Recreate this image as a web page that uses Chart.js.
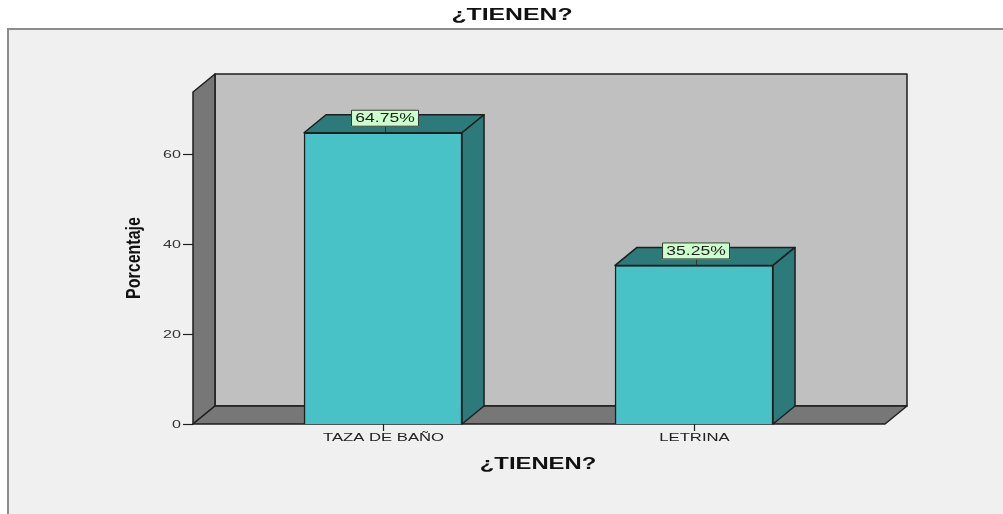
<!DOCTYPE html>
<html>
<head>
<meta charset="utf-8">
<script src="https://cdn.jsdelivr.net/npm/chart.js@4.4.1/dist/chart.umd.min.js"></script>
<style>
  body { margin: 0; background: #ffffff; }
  #chart { display: block; }
</style>
</head>
<body>
<canvas id="chart" width="1003" height="514"></canvas>
<script>
// chart data
var categories = ['TAZA DE BAÑO', 'LETRINA'];
var percentages = [64.75, 35.25];
var yTicks = [0, 20, 40, 60];
var chartTitle = '¿TIENEN?';
var xTitle = '¿TIENEN?';
var yTitle = 'Porcentaje';

// 3D depth offset
var DX = 22, DY = -18;
var FONT = "'Liberation Sans', Arial, sans-serif";

// Draw text stretched horizontally (the original picture is wider than normal)
function stretchText(ctx, text, x, y, font, sx, color, align) {
    ctx.save();
    ctx.font = font;
    ctx.fillStyle = color;
    ctx.textAlign = align || 'center';
    ctx.textBaseline = 'middle';
    ctx.translate(x, y);
    ctx.scale(sx, 1);
    ctx.fillText(text, 0, 0);
    ctx.restore();
}

function poly(ctx, pts, fill) {
    ctx.beginPath();
    ctx.moveTo(pts[0][0], pts[0][1]);
    for (var i = 1; i < pts.length; i++) {
        ctx.lineTo(pts[i][0], pts[i][1]);
    }
    ctx.closePath();
    ctx.fillStyle = fill;
    ctx.fill();
    ctx.stroke();
}

var box3d = {
    id: 'box3d',
    beforeDraw: function(chart) {
        var ctx = chart.ctx;
        ctx.save();
        // outer frame
        ctx.fillStyle = '#f0f0f0';
        ctx.fillRect(8, 29, 1003, 514);
        ctx.strokeStyle = '#8c8c8c';
        ctx.lineWidth = 2;
        ctx.beginPath();
        ctx.moveTo(8, 520);
        ctx.lineTo(8, 29);
        ctx.lineTo(1010, 29);
        ctx.stroke();
        ctx.restore();

        // titles
        stretchText(ctx, chartTitle, 512, 16, 'bold 16px ' + FONT, 1.55, '#111');
        stretchText(ctx, xTitle, 538, 464, 'bold 17px ' + FONT, 1.4, '#111');

        ctx.save();
        ctx.translate(134, 258);
        ctx.scale(1.3, 1);
        ctx.rotate(-Math.PI / 2);
        ctx.font = 'bold 16px ' + FONT;
        ctx.fillStyle = '#111';
        ctx.textAlign = 'center';
        ctx.textBaseline = 'middle';
        ctx.fillText(yTitle, 0, 0);
        ctx.restore();
    },
    beforeDatasetsDraw: function(chart) {
        var ctx = chart.ctx;
        var a = chart.chartArea;
        var yScale = chart.scales.y;
        var xScale = chart.scales.x;
        ctx.save();
        ctx.strokeStyle = '#1e1e1e';
        ctx.lineWidth = 1.5;
        ctx.lineJoin = 'round';
        // back wall
        poly(ctx, [[a.left + DX, a.top + DY], [a.right + DX, a.top + DY],
                   [a.right + DX, a.bottom + DY], [a.left + DX, a.bottom + DY]], '#c0c0c0');
        // left wall
        poly(ctx, [[a.left, a.top], [a.left + DX, a.top + DY],
                   [a.left + DX, a.bottom + DY], [a.left, a.bottom]], '#777777');
        // floor
        poly(ctx, [[a.left, a.bottom], [a.left + DX, a.bottom + DY],
                   [a.right + DX, a.bottom + DY], [a.right, a.bottom]], '#777777');

        // y ticks
        ctx.lineWidth = 1.2;
        for (var i = 0; i < yTicks.length; i++) {
            var py = Math.round(yScale.getPixelForValue(yTicks[i])) + 0.5;
            ctx.beginPath();
            ctx.moveTo(a.left - 10, py);
            ctx.lineTo(a.left, py);
            ctx.stroke();
            stretchText(ctx, String(yTicks[i]), a.left - 12, py, '11.5px ' + FONT, 1.4, '#333', 'right');
        }
        // x ticks
        for (var j = 0; j < categories.length; j++) {
            var px = Math.round(xScale.getPixelForValue(j)) + 0.5;
            ctx.beginPath();
            ctx.moveTo(px, a.bottom);
            ctx.lineTo(px, a.bottom + 7);
            ctx.stroke();
            stretchText(ctx, categories[j], px, a.bottom + 14, '11.5px ' + FONT, 1.45, '#222');
        }
        ctx.restore();
    },
    afterDatasetsDraw: function(chart) {
        var ctx = chart.ctx;
        var meta = chart.getDatasetMeta(0);
        ctx.save();
        ctx.strokeStyle = '#1e1e1e';
        ctx.lineWidth = 1.5;
        ctx.lineJoin = 'round';
        meta.data.forEach(function(bar, i) {
            var l = bar.x - bar.width / 2;
            var r = bar.x + bar.width / 2;
            var t = bar.y;
            var b = bar.base;
            // top face
            poly(ctx, [[l, t], [l + DX, t + DY], [r + DX, t + DY], [r, t]], '#2c7a7a');
            // side face
            poly(ctx, [[r, t], [r + DX, t + DY], [r + DX, b + DY], [r, b]], '#2c7a7a');

            // value label
            var cx = bar.x + 2;
            var cy = t - 15;
            ctx.lineWidth = 1;
            ctx.strokeStyle = '#333';
            ctx.beginPath();
            ctx.moveTo(cx + 0.5, cy + 8);
            ctx.lineTo(cx + 0.5, t);
            ctx.stroke();
            ctx.fillStyle = '#ccffcc';
            ctx.fillRect(cx - 34, cy - 8, 68, 17);
            ctx.strokeRect(cx - 33.5, cy - 7.5, 67, 16);
            stretchText(ctx, percentages[i].toFixed(2) + '%', cx, cy + 1, '12.5px ' + FONT, 1.4, '#222');
            ctx.lineWidth = 1.5;
            ctx.strokeStyle = '#1e1e1e';
        });
        ctx.restore();
    }
};

var ctx = document.getElementById('chart').getContext('2d');
window.barChart = new Chart(ctx, {
    type: 'bar',
    data: {
        datasets: [{
            data: percentages.map(function(v, i) { return { x: i, y: v }; }),
            backgroundColor: '#48c2c6',
            borderColor: '#1e1e1e',
            borderWidth: 1.5,
            barThickness: 158
        }]
    },
    options: {
        responsive: false,
        animation: false,
        devicePixelRatio: 1,
        layout: {
            padding: { left: 193, right: 118, top: 92, bottom: 90 }
        },
        plugins: {
            legend: { display: false },
            title: { display: false },
            tooltip: { enabled: false }
        },
        scales: {
            x: {
                type: 'linear',
                display: false,
                offset: false,
                grid: { offset: false },
                min: -0.611,
                max: 1.614
            },
            y: {
                display: false,
                min: 0,
                max: 73.8
            }
        }
    },
    plugins: [box3d]
});
</script>
</body>
</html>
